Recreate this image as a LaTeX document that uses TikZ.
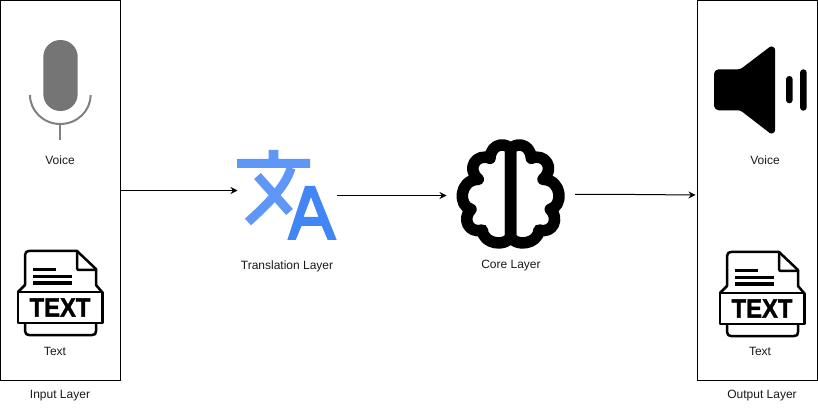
\documentclass[tikz,border=0pt]{standalone}
\usepackage{fontspec}
\setmainfont{Liberation Sans}
\usetikzlibrary{arrows.meta}
\definecolor{micgray}{HTML}{757575}
\definecolor{micline}{HTML}{808080}
\definecolor{tlight}{HTML}{5E97F6}
\definecolor{tdark}{HTML}{4285F4}
\tikzset{
  lbl/.style={inner sep=0pt,font=\fontsize{12}{14}\selectfont,text=black!90},
  layerbox/.style={draw=black,line width=1pt,minimum width=120pt,minimum height=380pt,inner sep=0pt},
  flow/.style={draw=black,line width=1pt,-{Stealth[length=7pt,width=7pt]}},
  doc/.style={draw=black,line width=2.5pt,line join=round,line cap=round},
  brainline/.style={draw=black,line width=11.5pt,line join=round,line cap=round},
}
\newcommand{\texticon}[2]{%
  \begin{scope}[shift={(#1,#2)}]
    \draw[doc] (25,285) -- (25,255) .. controls (25,252) and (27,251) .. (29,251) -- (77,251) -- (96,269) -- (96,285);
    \draw[doc] (77,251) -- (77,268) .. controls (77,269.5) and (78,270) .. (79,270) -- (96,270);
    \draw[draw=black,line width=3pt] (33,270) -- (56,270) (33,276.5) -- (72,276.5) (33,283) -- (72,283);
    \draw[doc] (25,285) -- (18,292) (96,285) -- (102,292);
    \draw[doc] (18,292) rectangle (102.5,323);
    \draw[doc] (25,323) -- (25,331) .. controls (25,334) and (27,335) .. (29,335) -- (92,335) .. controls (95,335) and (96,334) .. (96,331) -- (96,323);
    \node[inner sep=0pt,xscale=0.9] at (60,307.5) {\fontsize{26.5}{28}\selectfont\bfseries\addfontfeature{FakeBold=1.5}TEXT};
  \end{scope}}
\newcommand{\brainhalf}{%
  \draw[brainline] (197,60) .. controls (190,38) and (138,35) .. (135,85)
     .. controls (95,68) and (62,115) .. (100,148)
     .. controls (40,150) and (40,230) .. (78,238)
     .. controls (50,265) and (70,312) .. (112,300)
     .. controls (115,345) and (185,350) .. (197,320) -- cycle;}
\begin{document}
\begin{tikzpicture}[x=1pt,y=-1pt]
\useasboundingbox (0,0) rectangle (818,411);
% layer boxes
\node[layerbox] (inbox) at (60.5,190.5) {};
\node[layerbox] (outbox) at (757.5,190.5) {};
% microphone
\fill[micgray,rounded corners=17pt] (43.3,40) rectangle (77.7,111);
\draw[micline,line width=2pt] (30,95) arc[start angle=180,end angle=360,x radius=30.3,y radius=-29];
\draw[micline,line width=2pt] (60.3,124) -- (60.3,140.5);
\node[lbl] (voicein) at (60,160) {Voice};
% text icons
\texticon{0}{0}
\node[lbl] (textin) at (55,351) {Text};
\texticon{702}{1}
\node[lbl] (textout) at (760,351) {Text};
\node[lbl] (inlabel) at (60,396) {Input Layer};
% translate icon
\fill[tlight] (237,159) -- (268.7,159) -- (268.7,150) -- (278.3,150) -- (278.3,159) -- (310,159) -- (310,168) -- (237,168) -- cycle;
\draw[tlight,line width=9pt] (291,168) .. controls (286,185) and (272,200) .. (248,222);
\draw[tlight,line width=9pt] (257.5,176) -- (289.5,212);
\fill[tdark,even odd rule] (305,186) -- (315,186) -- (336.7,240) -- (327.7,240) -- (321.8,226) -- (301.5,226) -- (295.7,240) -- (287.3,240) -- cycle (311,197) -- (303.5,217) -- (318.5,217) -- cycle;
\node[lbl] (translabel) at (287,266) {Translation Layer};
% brain
\begin{scope}[shift={(445,130)},x=0.3333pt,y=-0.3333pt]
  \brainhalf
\end{scope}
\begin{scope}[shift={(576.3,130)},x=-0.3333pt,y=-0.3333pt]
  \brainhalf
\end{scope}
\node[lbl] (corelabel) at (511,266) {Core Layer};
% speaker
\filldraw[black,line width=4pt,line join=round,rounded corners=3pt] (716,71.3) -- (741,71.3) -- (773,47) -- (773,133) -- (741,108.3) -- (716,108.3) -- cycle;
\fill[black,rounded corners=3.3pt] (786,76) rectangle (792.7,103.3);
\fill[black,rounded corners=3.3pt] (800,69.3) rectangle (806.7,110.7);
\node[lbl] (voiceout) at (765,160) {Voice};
\node[lbl] (outlabel) at (762,396) {Output Layer};
% connector ends
\coordinate (transin) at (237.5,190.5);
\coordinate (transout) at (337,195.5);
\coordinate (corein) at (446.5,195.5);
\coordinate (coreout) at (575,194.5);
\coordinate (outin) at (695.5,195);
\draw[flow] (inbox.east |- transin) -- (transin);
\draw[flow] (transout) -- (corein);
\draw[flow] (coreout) -- ++(60,0) -- (outin);
\end{tikzpicture}
\end{document}
